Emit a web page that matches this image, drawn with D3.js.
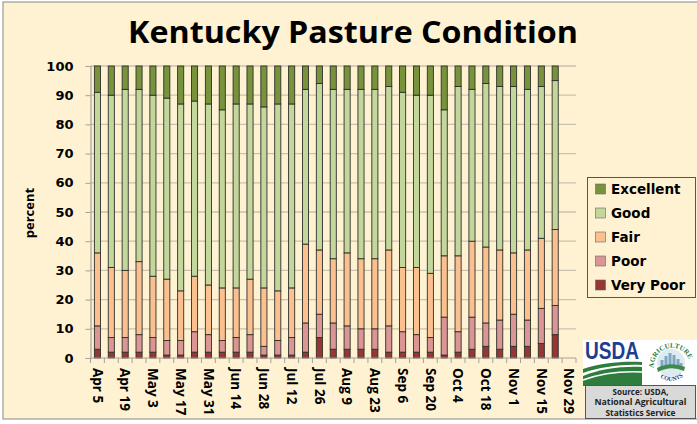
<!DOCTYPE html>
<html>
<head>
<meta charset="utf-8">
<script src="https://cdn.jsdelivr.net/npm/d3@7"></script>
<style>
  html, body { margin: 0; padding: 0; background: #ffffff; overflow: hidden; }
  svg { display: block; }
</style>
</head>
<body>
<svg id="chart" width="697" height="424"></svg>
<script>
// ---------------- DATA ----------------
const weeks = ["Apr 5","Apr 12","Apr 19","Apr 26","May 3","May 10","May 17","May 24","May 31",
  "Jun 7","Jun 14","Jun 21","Jun 28","Jul 5","Jul 12","Jul 19","Jul 26","Aug 2","Aug 9",
  "Aug 16","Aug 23","Aug 30","Sep 6","Sep 13","Sep 20","Sep 27","Oct 4","Oct 11","Oct 18",
  "Oct 25","Nov 1","Nov 8","Nov 15","Nov 22","Nov 29"];
const tickLabels = ["Apr 5","Apr 19","May 3","May 17","May 31","Jun 14","Jun 28","Jul 12",
  "Jul 26","Aug 9","Aug 23","Sep 6","Sep 20","Oct 4","Oct 18","Nov 1","Nov 15","Nov 29"];
const veryPoor  = [3,2,2,2,2,1,1,2,2,2,2,2,1,1,1,2,7,3,3,3,3,2,2,2,2,1,2,3,4,3,4,4,5,8];
const poor      = [8,5,5,6,5,5,5,7,6,4,5,6,3,5,6,10,8,9,8,7,7,9,7,6,5,13,7,11,8,10,11,9,12,10];
const fair      = [25,24,23,25,21,21,17,19,17,18,17,19,20,17,17,27,22,22,25,24,24,26,22,23,22,21,26,26,26,24,21,24,24,26];
const good      = [55,59,62,59,62,62,64,60,62,61,63,60,62,64,63,53,57,58,56,58,58,56,60,59,61,50,58,52,56,56,57,55,52,51];
const excellent = [9,10,8,8,10,11,13,12,13,15,13,13,14,13,13,8,6,8,8,8,8,7,9,10,10,15,7,8,6,7,7,8,7,5];
const seriesNames = ["Very Poor","Poor","Fair","Good","Excellent"];
const seriesColors = ["#953735","#D99694","#FAC090","#C3D69B","#77933C"];
const yTicks = [0,10,20,30,40,50,60,70,80,90,100];

// ---------------- SETUP ----------------
const svg = d3.select("#chart");
const BG = "#FEF2D3";

svg.append("rect").attr("x", 3).attr("y", 2).attr("width", 720).attr("height", 417)
  .attr("fill", BG).attr("stroke", "#9a9a9a").attr("stroke-width", 1.2);

// title
svg.append("text").attr("x", 353).attr("y", 43).attr("text-anchor", "middle")
  .attr("font-family", "'Open Sans', sans-serif").attr("font-weight", 700)
  .attr("font-size", 30).attr("textLength", 450).attr("lengthAdjust", "spacingAndGlyphs")
  .attr("fill", "#000").text("Kentucky Pasture Condition");

const pL = 90.5, pR = 576, pT = 66, pB = 358;
const x = d3.scaleBand().domain(weeks).range([pL, pR]).paddingInner(0.56).paddingOuter(0.28);
const xb = d3.scaleBand().domain(weeks).range([pL, pR]);
const y = d3.scaleLinear().domain([0, 100]).range([pB, pT]);

// gridlines
svg.append("g").selectAll("line").data(yTicks.filter(d => d > 0)).join("line")
  .attr("x1", pL).attr("x2", pR).attr("y1", d => y(d)).attr("y2", d => y(d))
  .attr("stroke", "#C9C2AE").attr("stroke-width", 1.3);

// y axis
const yAxis = svg.append("g").attr("transform", `translate(${pL},0)`)
  .call(d3.axisLeft(y).tickValues(yTicks).tickSize(5).tickPadding(12));
yAxis.select(".domain").attr("stroke", "#A6A29A").attr("stroke-width", 1.2);
yAxis.selectAll(".tick line").attr("stroke", "#A6A29A");
yAxis.selectAll(".tick text").attr("font-family", "'DejaVu Sans', sans-serif")
  .attr("font-weight", 700).attr("font-size", 13).attr("fill", "#000");

svg.append("text").attr("transform", "translate(34,213) rotate(-90)").attr("text-anchor", "middle")
  .attr("font-family", "'Open Sans', sans-serif").attr("font-weight", 700).attr("font-size", 13)
  .attr("fill", "#000").text("percent");

// bars
const table = weeks.slice(0, veryPoor.length).map((w, i) => ({
  week: w, "Very Poor": veryPoor[i], "Poor": poor[i], "Fair": fair[i], "Good": good[i], "Excellent": excellent[i]
}));
const stacked = d3.stack().keys(seriesNames)(table);
svg.append("g").selectAll("g").data(stacked).join("g")
  .attr("fill", (d, i) => seriesColors[i])
  .selectAll("rect").data(d => d).join("rect")
  .attr("x", d => x(d.data.week)).attr("width", x.bandwidth())
  .attr("y", d => y(d[1])).attr("height", d => y(d[0]) - y(d[1]))
  .attr("stroke", "#2f2f2a").attr("stroke-width", 0.9);

// x axis
const xAxis = svg.append("g").attr("transform", `translate(0,${pB})`);
xAxis.append("line").attr("x1", pL).attr("x2", pR).attr("stroke", "#A6A29A").attr("stroke-width", 1.2);
xAxis.selectAll("line.tk").data(weeks.concat(["end"])).join("line").attr("class", "tk")
  .attr("x1", (d, i) => pL + i * xb.step()).attr("x2", (d, i) => pL + i * xb.step())
  .attr("y1", 0).attr("y2", 5).attr("stroke", "#A6A29A");
xAxis.selectAll("text").data(tickLabels).join("text")
  .attr("transform", d => `translate(${xb(d) + xb.bandwidth() / 2},10) rotate(90)`)
  .attr("dy", "0.35em")
  .attr("font-family", "'Open Sans', sans-serif").attr("font-weight", 700).attr("font-size", 13.5)
  .attr("fill", "#000").text(d => d);

// legend
const lg = svg.append("g");
lg.append("rect").attr("x", 587.5).attr("y", 177.5).attr("width", 108).attr("height", 120)
  .attr("fill", BG).attr("stroke", "#555").attr("stroke-width", 1);
const legendOrder = seriesNames.slice().reverse();
legendOrder.forEach((name, i) => {
  const cy = 189 + i * 24;
  lg.append("rect").attr("x", 595.5).attr("y", cy - 5).attr("width", 10).attr("height", 10)
    .attr("fill", seriesColors[seriesNames.indexOf(name)]).attr("stroke", "#666").attr("stroke-width", 0.6);
  lg.append("text").attr("x", 611).attr("y", cy).attr("dy", "0.36em")
    .attr("font-family", "'DejaVu Sans', sans-serif").attr("font-weight", 700).attr("font-size", 13.5)
    .attr("fill", "#000").text(name);
});

// USDA logo (simplified)
const logo = svg.append("g");
logo.append("rect").attr("x", 583).attr("y", 340).attr("width", 114).attr("height", 46).attr("fill", "#fff");
logo.append("text").attr("x", 585).attr("y", 359).attr("font-family", "'Liberation Sans', sans-serif")
  .attr("font-weight", 700).attr("font-size", 24).attr("textLength", 54).attr("lengthAdjust", "spacingAndGlyphs")
  .attr("fill", "#1D3E8F").text("USDA");
logo.append("path").attr("d", "M583,369 C600,363 622,361 642,362 L642,365 C622,364 600,367 583,373 Z").attr("fill", "#2E7D3E");
logo.append("path").attr("d", "M583,376 C600,369 622,366 642,367 L642,386 L583,386 Z").attr("fill", "#2E7D3E");
logo.append("path").attr("d", "M583,380 C602,373 622,371 642,372").attr("fill", "none").attr("stroke", "#fff").attr("stroke-width", 1.6);
const lcx = 671, lcy = 363;
logo.append("circle").attr("cx", lcx).attr("cy", lcy).attr("r", 14).attr("fill", "#DDEBF0");
[[-9,8],[-5,12],[-1,15],[3,13],[7,9],[10,5]].forEach(([dx, h]) => {
  logo.append("rect").attr("x", lcx + dx - 1.5).attr("y", lcy + 5 - h).attr("width", 3).attr("height", h).attr("fill", "#7FA7C4");
});
logo.append("path").attr("d", `M${lcx-14},${lcy+5} Q${lcx},${lcy-2} ${lcx+14},${lcy+4} L${lcx+13},${lcy+8} Q${lcx},${lcy+2} ${lcx-13},${lcy+9} Z`).attr("fill", "#3E8A4A");
const defs = svg.append("defs");
defs.append("path").attr("id", "arcTop").attr("d", `M${lcx-17},${lcy+5} A18,18 0 0,1 ${lcx+19},${lcy+1}`);
defs.append("path").attr("id", "arcBot").attr("d", `M${lcx-13},${lcy+12} A17,17 0 0,0 ${lcx+13},${lcy+12}`);
logo.append("text").attr("font-family", "'Liberation Serif', serif").attr("font-weight", 700).attr("font-size", 7)
  .attr("fill", "#2E7D3E").append("textPath").attr("href", "#arcTop").text("AGRICULTURE");
logo.append("text").attr("font-family", "'Liberation Serif', serif").attr("font-weight", 700).attr("font-size", 6)
  .attr("fill", "#1D3E8F").append("textPath").attr("href", "#arcBot").attr("startOffset", "10%").text("COUNTS");

// source box
svg.append("rect").attr("x", 585.5).attr("y", 385.5).attr("width", 110).attr("height", 33)
  .attr("fill", "#D9D9D9").attr("stroke", "#555").attr("stroke-width", 1);
const srcLines = ["Source: USDA,", "National Agricultural", "Statistics Service"];
const srcLen = [56, 92, 70];
srcLines.forEach((t, i) => {
  svg.append("text").attr("x", 640.5).attr("y", 392 + i * 10.5).attr("dy", "0.35em").attr("text-anchor", "middle")
    .attr("font-family", "'Open Sans', sans-serif").attr("font-weight", 700).attr("font-size", 8.5)
    .attr("textLength", srcLen[i]).attr("lengthAdjust", "spacingAndGlyphs")
    .attr("fill", "#222").text(t);
});
</script>
</body>
</html>
